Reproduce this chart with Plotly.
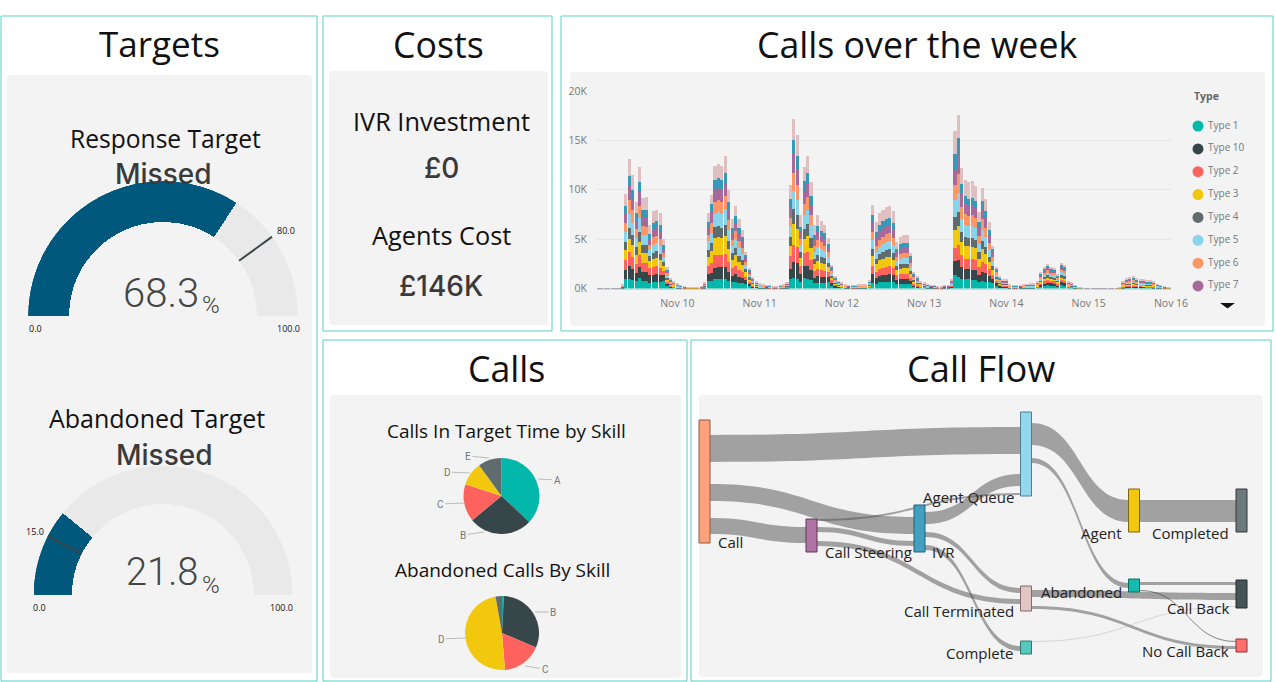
import pandas as pd
import plotly.graph_objects as go

W = 1276
H = 682

# hourly calls per type, one row per day (Nov 9 - Nov 15)
type_1 = [
    2,2,2,2,2,2,2,30, 950,950,900,750,1050,800,800,600,650,700,700,800,250,110,70,50,
    20,15,10,10,10,10,15,50, 750,750,1000,1000,1000,1000,800,650,700,600,550,500,250,120,80,50,
    30,25,20,20,20,20,30,50, 1000,1050,1000,650,1050,1000,850,550,600,600,600,650,300,150,90,70,
    30,25,20,20,30,30,30,70, 600,500,650,650,700,700,650,450,500,500,450,500,180,130,70,60,
    35,25,20,20,20,25,25,80, 1400,1150,1000,950,950,900,900,650,750,700,650,600,300,150,110,110,
    30,20,20,25,30,35,40,40, 80,200,300,350,300,300,200,350,300,80,60,30,15,10,5,3,
    2,2,2,2,2,2,2,5, 10,50,80,90,100,80,75,70,60,60,50,35,25,15,10,8,
]
type_10 = [
    2,2,2,2,2,2,2,40, 950,1350,1100,800,1150,850,850,800,750,800,700,600,210,100,70,50,
    30,20,15,15,15,15,20,60, 750,800,1100,1150,1150,1200,900,650,750,600,500,350,250,120,80,50,
    40,35,30,25,25,30,40,60, 1000,1600,1550,800,1250,1300,1000,550,650,600,600,550,300,130,80,60,
    40,35,30,30,40,40,40,80, 850,600,650,700,700,750,700,450,500,450,500,300,170,120,70,60,
    45,35,30,25,25,35,35,90, 1400,1700,1150,1000,1000,950,950,750,950,850,650,400,220,120,90,90,
    40,30,30,35,40,45,50,50, 60,170,200,250,220,200,150,260,230,70,60,30,15,10,5,3,
    2,2,2,2,2,2,2,5, 15,70,100,110,125,100,95,90,80,80,70,45,30,20,15,10,
]
type_2 = [
    2,2,2,2,2,2,2,40, 950,1350,1150,900,1200,900,950,700,750,750,700,350,200,100,70,50,
    30,20,15,15,15,15,20,60, 800,1050,1250,1250,1200,1250,1000,750,850,700,600,350,200,110,70,50,
    40,35,30,25,25,30,40,60, 1250,1800,1650,800,1300,1400,1050,650,700,650,600,450,250,120,80,60,
    40,35,30,30,40,40,40,80, 800,600,700,750,800,800,700,450,450,500,500,300,170,120,70,60,
    45,35,30,25,25,35,35,90, 1350,1550,1200,1050,1050,1100,1000,750,1000,900,650,400,220,120,90,90,
    40,30,30,35,40,45,50,50, 70,170,220,250,220,210,150,260,240,70,60,30,15,10,5,3,
    2,2,2,2,2,2,2,5, 15,70,100,110,125,100,95,90,80,80,70,45,30,20,15,10,
]
type_3 = [
    2,2,2,2,2,2,2,40, 1000,1350,1250,950,1300,1000,1000,700,800,800,750,500,240,110,80,55,
    35,25,20,20,20,20,25,70, 850,1150,1800,1800,1750,1850,1250,850,1050,800,700,450,250,120,80,60,
    45,40,35,30,30,35,45,70, 1100,2050,1800,800,1400,1600,1250,700,800,700,700,550,250,120,80,70,
    45,40,35,35,45,45,45,90, 1000,750,850,900,950,950,850,500,550,600,600,400,200,130,80,70,
    50,40,35,30,30,40,40,100, 1750,1950,1350,1300,1300,1300,1250,850,1250,1000,750,500,260,130,100,100,
    45,35,35,40,45,50,55,55, 80,190,250,280,250,230,170,290,280,80,70,35,20,10,5,3,
    2,2,2,2,2,2,2,5, 20,80,115,125,145,115,110,105,95,95,85,55,35,25,20,12,
]
type_4 = [
    2,2,2,2,2,2,2,30, 850,1150,1000,800,1050,850,800,500,650,700,650,400,180,90,60,40,
    25,15,10,10,10,10,15,50, 750,900,1050,1100,1050,1100,850,650,750,600,500,300,170,90,60,40,
    30,30,25,20,20,25,30,50, 850,1600,1450,650,1050,1250,950,550,650,650,550,400,200,100,60,50,
    30,30,25,25,30,30,30,70, 700,550,650,700,700,750,650,400,450,450,450,300,150,100,60,50,
    35,30,25,20,20,30,30,70, 1350,1400,1000,900,850,850,850,650,850,750,500,350,170,100,70,70,
    30,25,25,30,30,35,40,40, 50,130,170,190,170,160,110,190,180,50,45,25,10,10,5,3,
    2,2,2,2,2,2,2,5, 10,55,80,90,100,80,75,70,65,65,55,35,25,15,10,8,
]
type_5 = [
    2,2,2,2,2,2,2,50, 1050,1400,1250,950,1350,1050,1000,600,850,850,800,500,230,110,80,55,
    35,25,20,20,20,20,25,70, 900,1000,1350,1400,1400,1700,1150,800,900,800,650,400,230,120,90,60,
    45,40,35,30,30,35,45,70, 1150,1750,1550,700,1350,1400,1300,700,800,800,700,550,250,130,90,70,
    45,40,35,35,45,45,45,90, 1000,700,750,800,850,850,800,500,550,600,600,400,180,130,80,60,
    50,40,35,30,30,40,40,100, 1700,1900,1300,1200,1150,1200,1150,850,1150,1000,750,500,240,130,100,100,
    45,35,35,40,45,50,55,55, 80,190,240,270,240,230,170,280,270,80,70,35,20,10,5,3,
    2,2,2,2,2,2,2,5, 20,80,115,125,145,115,110,105,95,95,85,55,35,25,20,12,
]
type_6 = [
    2,2,2,2,2,2,2,40, 900,1400,1250,850,1300,850,850,550,750,750,750,400,210,100,70,50,
    30,20,15,15,15,15,20,60, 650,1000,1200,1250,1200,1300,1000,600,800,700,600,350,200,110,70,50,
    40,35,30,25,25,30,40,60, 800,1800,1500,650,1200,1300,1050,600,750,700,600,500,230,120,80,60,
    40,35,30,30,40,40,40,80, 800,650,700,750,800,800,750,400,500,500,500,350,170,120,70,60,
    45,35,30,25,25,35,35,90, 1500,1900,1300,1100,1050,1150,1050,850,1050,950,700,450,220,120,90,90,
    40,30,30,35,40,45,50,50, 70,170,220,250,220,210,150,260,240,70,60,30,15,10,5,3,
    2,2,2,2,2,2,2,5, 15,70,100,110,125,100,95,90,80,80,70,45,30,20,15,10,
]
type_7 = [
    2,2,2,2,2,2,2,40, 1000,1450,1200,850,1400,950,950,600,800,850,750,450,210,100,70,50,
    30,20,15,15,15,15,20,60, 750,1050,1200,1200,1250,1300,1050,650,800,700,650,350,200,110,70,50,
    40,35,30,25,25,30,40,60, 1100,2000,1600,700,1200,1400,1050,650,800,650,700,500,250,130,80,60,
    40,35,30,30,40,40,40,80, 950,750,850,900,900,850,850,500,550,600,600,400,180,130,70,60,
    45,35,30,25,25,35,35,90, 1700,2100,1400,1100,1050,1050,1000,800,1100,1000,700,450,220,120,90,90,
    40,30,30,35,40,45,50,50, 70,170,220,250,220,210,150,260,240,70,60,30,15,10,5,3,
    2,2,2,2,2,2,2,5, 15,75,105,120,135,105,100,95,85,85,75,50,30,20,15,10,
]
type_8 = [
    2,2,2,2,2,2,2,30, 750,1000,900,750,1000,700,750,500,650,650,650,450,170,80,50,30,
    25,15,10,10,10,10,15,50, 550,850,1000,1000,1000,1000,750,500,700,600,450,300,150,80,50,30,
    30,25,20,20,20,20,30,50, 850,1400,1350,500,1050,1050,900,450,550,500,550,400,180,90,50,40,
    30,25,20,20,30,30,30,60, 750,600,650,650,650,650,650,350,450,450,450,300,130,100,50,40,
    35,25,20,20,20,25,25,70, 1450,1600,900,800,700,700,700,550,800,700,550,300,150,90,60,60,
    30,20,20,25,30,35,40,40, 60,130,170,190,170,160,110,190,180,50,45,25,15,10,5,3,
    2,2,2,2,2,2,2,5, 10,55,80,90,100,80,75,70,60,60,50,35,25,15,10,8,
]
type_9 = [
    2,2,2,2,2,2,2,60, 1200,1700,1500,1200,1500,1250,1350,850,1150,1050,1150,550,230,110,80,50,
    40,25,20,20,20,20,25,80, 900,950,1450,1450,1400,1700,1250,900,1100,900,700,350,200,120,80,60,
    60,45,35,25,25,35,60,80, 1400,2150,2050,1150,1450,1700,1400,1000,1100,1000,800,550,190,110,60,60,
    60,45,35,35,60,60,60,110, 1050,1000,1150,1200,1250,1300,1200,700,700,750,750,350,170,120,80,80,
    70,45,35,25,25,45,45,120, 2300,2350,1600,1600,1700,1700,1550,1050,1300,1250,800,350,200,120,100,100,
    60,45,45,50,60,65,70,70, 80,180,210,220,190,190,140,260,240,80,70,30,10,10,5,3,
    2,2,2,2,2,2,2,5, 20,95,125,130,150,125,120,115,100,100,90,50,35,25,20,12,
]
type_names = ["Type 1", "Type 10", "Type 2", "Type 3", "Type 4", "Type 5", "Type 6", "Type 7", "Type 8", "Type 9"]
type_values = [type_1, type_10, type_2, type_3, type_4, type_5, type_6, type_7, type_8, type_9]
y_ticks = [0, 5000, 10000, 15000, 20000]
y_labels = ["0K", "5K", "10K", "15K", "20K"]

skills_target = ["A", "B", "C", "D", "E"]
calls_in_target = [37, 27, 16, 10, 10]
skills_abandoned = ["A", "B", "C", "D", "E"]
abandoned_calls = [0.8, 30.6, 17.2, 48.4, 2.8]

response_value = 68.3
response_target = 80.0
abandoned_value = 21.8
abandoned_target = 15.0

flow_nodes = ["Call", "Call Steering", "IVR", "Agent Queue", "Agent", "Completed",
              "Call Terminated", "Abandoned", "Complete", "Call Back", "No Call Back"]
flow_from = ["Call", "Call", "Call", "Call Steering", "Call Steering", "Call Steering",
             "IVR", "IVR", "IVR", "Agent Queue", "Agent Queue", "Agent",
             "Call Terminated", "Call Terminated", "Abandoned", "Abandoned", "Complete"]
flow_to = ["Agent Queue", "IVR", "Call Steering", "Agent Queue", "IVR", "Call Terminated",
           "Agent Queue", "Call Terminated", "Complete", "Agent", "Abandoned", "Completed",
           "Call Back", "No Call Back", "Call Back", "No Call Back", "Call Back"]
flow_values = [27, 17, 16, 2, 5, 5, 12, 5, 5, 22, 5, 22, 7, 3, 3, 1, 1]

# colours
TEAL = "#01B8AA"
DARK = "#374649"
RED = "#FD625E"
YELLOW = "#F2C80F"
GREY = "#5F6B6D"
LIGHT = "#8AD4EB"
ORANGE = "#FE9666"
PURPLE = "#A66999"
BLUE = "#3599B8"
PINK = "#DFBFBF"
CARD = "#F3F3F3"
type_colors = [TEAL, DARK, RED, YELLOW, GREY, LIGHT, ORANGE, PURPLE, BLUE, PINK]
flow_colors = ["#FFA27C", "#B073A5", "#45A0BF", "#94D8EE", YELLOW, "#6D797B", "#E2C6C6", "#14BBAE", "#56C8BC", "#465457", "#FF6F6B"]
flow_lines = ["#8A5A40", "#5A3A55", "#1F6078", "#4F7F90", "#7A6510", "#30383A",
              "#806A6A", "#0A6E66", "#2A7A72", "#1E2A2C", "#8A3533"]

TITLE_FONT = "Open Sans"
NUM_FONT = "Roboto"
HEAVY_FONT = "Inter"


def px(x):
    return x / W


def py(y):
    return 1 - y / H


def text(label, x, y, size, color="#111111", anchor="center", family=TITLE_FONT, weight=None):
    return dict(text=label, x=px(x), y=py(y), xref="paper", yref="paper", showarrow=False,
                xanchor=anchor, yanchor="middle",
                font=dict(family=family, size=size, color=color, weight=weight))


def rounded(x0, y0, x1, y1, r=4):
    return (f"M{px(x0+r)},{py(y0)} L{px(x1-r)},{py(y0)} Q{px(x1)},{py(y0)} {px(x1)},{py(y0+r)} "
            f"L{px(x1)},{py(y1-r)} Q{px(x1)},{py(y1)} {px(x1-r)},{py(y1)} "
            f"L{px(x0+r)},{py(y1)} Q{px(x0)},{py(y1)} {px(x0)},{py(y1-r)} "
            f"L{px(x0)},{py(y0+r)} Q{px(x0)},{py(y0)} {px(x0+r)},{py(y0)} Z")


def triangle(x0, x1, y0, y1):
    return f"M{px(x0)},{py(y0)} L{px(x1)},{py(y0)} L{px((x0+x1)/2)},{py(y1)} Z"


fig = go.Figure()

# stacked bars
hours = pd.date_range("2018-11-09 01:00", periods=168, freq="h")
for name, values, color in zip(type_names, type_values, type_colors):
    fig.add_trace(go.Bar(x=hours, y=values, name=name, marker=dict(color=color, line=dict(width=0)),
                         showlegend=False, hoverinfo="skip"))

# legend column, round markers, stops at Type 7 like the scrolled legend
fig.add_trace(go.Scatter(x=[0] * 8, y=type_names[:8], mode="markers", cliponaxis=False,
                         marker=dict(color=type_colors[:8], size=11), xaxis="x2", yaxis="y2",
                         showlegend=False, hoverinfo="skip"))
fig.add_trace(go.Scatter(x=[10] * 8, y=type_names[:8], text=type_names[:8], mode="text",
                         textposition="middle right", cliponaxis=False,
                         textfont=dict(family=TITLE_FONT, size=10, color="#777777"), xaxis="x2", yaxis="y2",
                         showlegend=False, hoverinfo="skip"))


def add_gauge(value, target, subplot, outer, inner):
    bg = go.Barpolar(r=[outer - inner], base=[inner], theta=[90], width=[180],
                     marker=dict(color="#E9E9E9", line=dict(width=0)), subplot=subplot,
                     showlegend=False, hoverinfo="skip")
    bar = go.Barpolar(r=[outer - inner], base=[inner], theta=[180 - 0.9 * value], width=[1.8 * value],
                      marker=dict(color="#00587C", line=dict(width=0)), subplot=subplot,
                      showlegend=False, hoverinfo="skip")
    mark = go.Scatterpolar(r=[inner, outer], theta=[180 - 1.8 * target] * 2, mode="lines",
                           line=dict(color="#3A4648", width=2), subplot=subplot,
                           showlegend=False, hoverinfo="skip")
    fig.add_traces([bg, bar, mark])


add_gauge(response_value, response_target, "polar", 135, 94)
add_gauge(abandoned_value, abandoned_target, "polar2", 129.5, 91)


def polar_layout(x0, x1, y0, y1, outer):
    return dict(domain=dict(x=[px(x0), px(x1)], y=[py(y1), py(y0)]), sector=[0, 180],
                bgcolor="rgba(0,0,0,0)", barmode="overlay",
                radialaxis=dict(visible=False, range=[0, outer], showgrid=False),
                angularaxis=dict(visible=False, showgrid=False))


# pies
fig.add_trace(go.Pie(labels=skills_target, values=calls_in_target, sort=False, direction="clockwise",
                     marker=dict(colors=[TEAL, DARK, RED, YELLOW, GREY], line=dict(width=0)),
                     textinfo="none", hoverinfo="skip", showlegend=False,
                     domain=dict(x=[px(463.5), px(539.5)], y=[py(534), py(458)])))
fig.add_trace(go.Pie(labels=skills_abandoned, values=abandoned_calls, sort=False, direction="clockwise",
                     marker=dict(colors=[TEAL, DARK, RED, YELLOW, GREY], line=dict(width=0)),
                     textinfo="none", hoverinfo="skip", showlegend=False,
                     domain=dict(x=[px(465), px(539)], y=[py(670), py(596)])))

# sankey: node tops and centres in pixels; invisible links add the spacing around ribbons
node_top = [420, 519, 505, 412, 489, 489, 586, 579, 641, 580, 639]
node_mid = [704.5, 811.5, 919.5, 1026, 1134, 1241.5, 1026, 1134, 1026, 1241.5, 1241.5]
in_gaps = [
    ("Call Steering", 8, 396), ("Call Steering", 9, 500),
    ("IVR", 12, 396), ("IVR", 7, 470), ("IVR", 6, 600),
    ("Agent Queue", 15, 396), ("Agent Queue", 20, 460), ("Agent Queue", 7, 510), ("Agent Queue", 1, 600),
    ("Agent", 11, 396), ("Agent", 10, 600),
    ("Completed", 11, 396), ("Completed", 10, 600),
    ("Call Terminated", 2, 396), ("Call Terminated", 6, 510),
    ("Abandoned", 4, 396), ("Abandoned", 4, 600),
    ("Complete", 5, 396), ("Complete", 3, 600),
    ("Call Back", 2, 396), ("Call Back", 8, 582), ("Call Back", 6, 600), ("Call Back", 1, 660),
    ("No Call Back", 2, 396), ("No Call Back", 4, 582), ("No Call Back", 3, 600),
]
out_gaps = [
    ("Call", 15, 396), ("Call", 22, 450), ("Call", 17, 512), ("Call", 9, 600),
    ("Call Steering", 6, 450), ("Call Steering", 9, 550),
    ("IVR", 7, 396), ("IVR", 8, 500), ("IVR", 8, 600),
    ("Agent Queue", 11, 396), ("Agent Queue", 13, 520),
    ("Agent", 11, 396),
    ("Call Terminated", 4, 396), ("Call Terminated", 9, 600), ("Call Terminated", 2, 660),
    ("Abandoned", 3, 396), ("Abandoned", 5, 600),
]
idx = {n: i for i, n in enumerate(flow_nodes)}
sources = [idx[a] for a in flow_from]
targets = [idx[b] for b in flow_to]
values = list(flow_values)
link_colors = ["rgba(80,80,80,0.5)"] * len(values)
link_colors[flow_from.index("Complete")] = "rgba(150,150,150,0.3)"
link_colors[15] = "rgba(60,60,60,0.6)"

n_real = len(flow_nodes)
gap_tops = []
for node, v, key in in_gaps:
    sources.append(n_real + len(gap_tops))
    targets.append(idx[node])
    values.append(v)
    gap_tops.append((key, v))
for node, v, key in out_gaps:
    sources.append(idx[node])
    targets.append(n_real + len(gap_tops))
    values.append(v)
    gap_tops.append((key, v))
link_colors += ["rgba(0,0,0,0)"] * (len(in_gaps) + len(out_gaps))

flow_h = sum(v for _, v, _ in in_gaps) + sum(v for s, v in zip(sources, values) if s == 0)
flow_y0 = 680 - flow_h
flow_x0, flow_x1 = 690, 1262


def node_height(i):
    a = sum(v for s, v in zip(sources, values) if s == i)
    b = sum(v for t, v in zip(targets, values) if t == i)
    return max(a, b)


# spacer nodes sit at the card edge, painted in the card colour
node_x = [(m - flow_x0) / (flow_x1 - flow_x0) for m in node_mid] + [0.99] * len(gap_tops)
node_y = [(node_top[i] + node_height(i) / 2 - flow_y0) / flow_h for i in range(n_real)]
node_y += [(k + v / 2 - flow_y0) / flow_h for k, v in gap_tops]

fig.add_trace(go.Sankey(
    arrangement="fixed",
    domain=dict(x=[px(flow_x0), px(flow_x1)], y=[py(flow_y0 + flow_h), py(flow_y0)]),
    hoverinfo="skip",
    node=dict(label=[""] * (n_real + len(gap_tops)), x=node_x, y=node_y, pad=0, thickness=11, align="left",
              color=flow_colors + [CARD] * len(gap_tops),
              line=dict(color=CARD, width=0),
              hoverinfo="skip"),
    link=dict(source=sources, target=targets, value=values, color=link_colors, hoverinfo="skip"),
))

# panels
panels = [(1, 16, 317, 681), (323, 16, 552, 331), (561, 16, 1273, 331), (323, 340, 687, 681), (691, 340, 1271, 681)]
cards = [(7, 75, 312, 673), (329, 71, 548, 325), (570, 72, 1265, 326), (330, 395, 681, 678), (699, 395, 1263, 677)]
shapes = []
for x0, y0, x1, y1 in cards:
    shapes.append(dict(type="path", path=rounded(x0, y0, x1, y1), xref="paper", yref="paper",
                       fillcolor=CARD, line=dict(width=0), layer="below"))
for x0, y0, x1, y1 in panels:
    shapes.append(dict(type="rect", x0=px(x0), x1=px(x1), y0=py(y1), y1=py(y0), xref="paper", yref="paper",
                       line=dict(color="#5CCFC5", width=1), fillcolor="rgba(0,0,0,0)", layer="below"))
# legend scroll arrow
shapes.append(dict(type="path", path=triangle(1218, 1237, 303, 312), xref="paper", yref="paper",
                   fillcolor="white", line=dict(width=0), layer="below"))
shapes.append(dict(type="path", path=triangle(1220, 1235, 303, 308.5), xref="paper", yref="paper",
                   fillcolor="#111111", line=dict(width=0), layer="below"))
# node outlines
for i in range(n_real):
    shapes.append(dict(type="rect", x0=px(node_mid[i] - 5.5), x1=px(node_mid[i] + 5.5),
                       y0=py(node_top[i] + node_height(i)), y1=py(node_top[i]), xref="paper", yref="paper",
                       line=dict(color=flow_lines[i], width=1), fillcolor="rgba(0,0,0,0)", layer="above"))

# texts
notes = [
    text("Targets", 159, 44, 35), text("Costs", 438, 44, 35.7), text("Calls over the week", 917, 44, 35.7),
    text("Calls", 506, 368, 35.7), text("Call Flow", 981, 368, 36.2),
    text("Response Target", 165, 138, 24.6), text("Abandoned Target", 157, 418, 25),
    text("Missed", 163, 174, 28, "#3A3A3A", family=HEAVY_FONT, weight=500),
    text("Missed", 164, 455, 28, "#3A3A3A", family=HEAVY_FONT, weight=500),
    text(f"{response_value}", 161, 293, 40, "#444444", family=NUM_FONT, weight=300),
    text("%", 211, 305, 24, "#444444", family=NUM_FONT, weight=300),
    text(f"{abandoned_value}", 162, 572, 38, "#444444", family=NUM_FONT, weight=300),
    text("%", 211, 585, 24, "#444444", family=NUM_FONT, weight=300),
    text("0.0", 35, 328, 9), text("100.0", 288, 328, 9), text(f"{response_target}", 286, 231, 9),
    text("0.0", 39, 607, 9), text("100.0", 281, 607, 9), text(f"{abandoned_target}", 35, 531, 9),
    text("IVR Investment", 441, 121, 25.3), text("£0", 441, 168, 28, "#3A3A3A", family=HEAVY_FONT, weight=500),
    text("Agents Cost", 441, 235, 25.3), text("£146K", 441, 286, 28, "#3A3A3A", family=HEAVY_FONT, weight=500),
    text("Calls In Target Time by Skill", 506, 431, 19), text("Abandoned Calls By Skill", 502, 570, 19),
    text("<b>Type</b>", 1192, 96, 10.5, "#666666", "left"),
]
# sankey labels
for label, x, y, anchor in [
    ("Call", 716, 542, "left"), ("Call Steering", 823, 552, "left"), ("IVR", 930, 552, "left"),
    ("Agent Queue", 1016, 497, "right"), ("Agent", 1124, 533, "right"), ("Completed", 1231, 533, "right"),
    ("Call Terminated", 1016, 611, "right"), ("Abandoned", 1124, 592, "right"), ("Complete", 1016, 653, "right"),
    ("Call Back", 1231, 608, "right"), ("No Call Back", 1231, 651, "right"),
]:
    notes.append(text(label, x, y, 15, "#222222", anchor))
# pie labels with leader lines
for label, x, y, lx, ly in [
    ("A", 538, 479, 557, 480), ("B", 484, 532, 463, 535), ("C", 465, 503, 440, 504), ("D", 470, 473, 447, 472),
    ("E", 489, 458, 468, 456), ("B", 535, 612, 553, 612), ("C", 525, 666, 545, 669), ("D", 465, 638, 441, 639),
]:
    notes.append(dict(text=label, x=px(x), y=py(y), xref="paper", yref="paper", ax=lx - x, ay=ly - y,
                      axref="pixel", ayref="pixel", showarrow=True, arrowhead=0, arrowwidth=1, arrowcolor="#BBBBBB",
                      font=dict(family=NUM_FONT, size=10, color="#777777")))

fig.update_layout(
    width=W, height=H, margin=dict(l=0, r=0, t=0, b=0, autoexpand=False), paper_bgcolor="white",
    plot_bgcolor="rgba(0,0,0,0)", barmode="stack", bargap=0.12, hovermode=False, shapes=shapes, annotations=notes,
    polar=polar_layout(28, 298, 181, 316, 135), polar2=polar_layout(33.5, 292.5, 465.5, 595, 129.5),
    xaxis=dict(domain=[px(597), px(1171)], type="date", range=["2018-11-09 00:35", "2018-11-16 00:00"],
               tickformat="%b %d", dtick=86400000, tick0="2018-11-09", showgrid=False, zeroline=False,
               showline=True, linecolor="#D5D5D5", linewidth=1, ticks="", ticklabelstandoff=5,
               tickfont=dict(family=TITLE_FONT, size=10.5, color="#777777"), anchor="y"),
    yaxis=dict(domain=[py(288.5), py(91)], range=[0, 20000], tickvals=y_ticks, ticktext=y_labels,
               gridcolor="#E6E6E6", zeroline=False, ticks="", ticklabelstandoff=9,
               tickfont=dict(family=TITLE_FONT, size=10.5, color="#777777"), anchor="x"),
    xaxis2=dict(domain=[px(1190), px(1260)], range=[-8, 62], visible=False, anchor="y2"),
    yaxis2=dict(domain=[py(297.4), py(114.6)], type="category", categoryorder="array",
                categoryarray=type_names[:8], range=[7.5, -0.5], visible=False, anchor="x2"),
)

fig.write_html("out.html", config={"displayModeBar": False},
               post_script="document.body.style.margin='0';document.body.style.overflow='hidden';")
